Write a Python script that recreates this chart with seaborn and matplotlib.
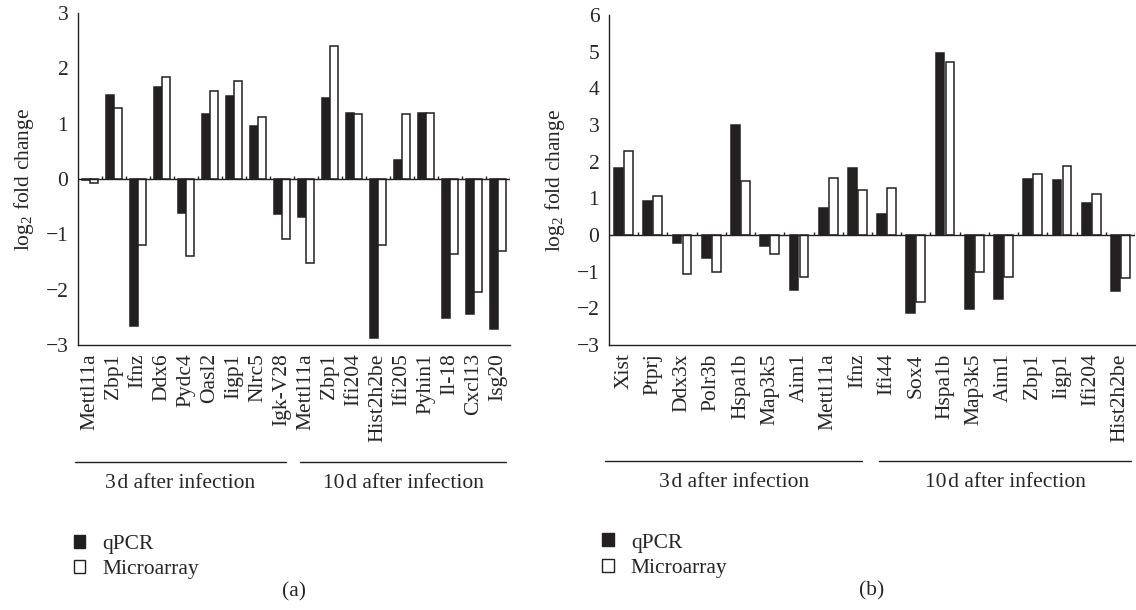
import numpy as np
import pandas as pd
import seaborn as sns
import matplotlib.pyplot as plt
from matplotlib.patches import Patch

# panel (a) data
genes_a = ["Mettl11a", "Zbp1", "Ifnz", "Ddx6", "Pydc4", "Oasl2", "Iigp1", "Nlrc5", "Igk-V28",
           "Mettl11a", "Zbp1", "Ifi204", "Hist2h2be", "Ifi205", "Pyhin1", "Il-18", "Cxcl13", "Isg20"]
qpcr_a = [-0.02, 1.51, -2.66, 1.67, -0.62, 1.18, 1.50, 0.95, -0.63,
          -0.69, 1.47, 1.20, -2.87, 0.35, 1.19, -2.52, -2.44, -2.71]
micro_a = [-0.07, 1.28, -1.19, 1.84, -1.39, 1.59, 1.78, 1.12, -1.08,
           -1.52, 2.40, 1.18, -1.19, 1.18, 1.19, -1.36, -2.04, -1.31]

# panel (b) data
genes_b = ["Xist", "Ptprj", "Ddx3x", "Polr3b", "Hspa1b", "Map3k5", "Aim1", "Mettl11a", "Ifnz",
           "Ifi44", "Sox4", "Hspa1b", "Map3k5", "Aim1", "Zbp1", "Iigp1", "Ifi204", "Hist2h2be"]
qpcr_b = [1.83, 0.92, -0.23, -0.62, 3.01, -0.29, -1.50, 0.73, 1.82,
          0.57, -2.14, 4.96, -2.02, -1.74, 1.52, 1.49, 0.88, -1.54]
micro_b = [2.30, 1.07, -1.06, -1.02, 1.48, -0.51, -1.15, 1.55, 1.22,
           1.27, -1.82, 4.72, -1.01, -1.15, 1.67, 1.87, 1.12, -1.18]

groups = ["3\u200ad after infection", "10\u200ad after infection"]
n_3d = 9

sns.set_style("white")
plt.rcParams['font.family'] = ['Liberation Serif', 'DejaVu Serif']
plt.rcParams['mathtext.default'] = 'regular'
plt.rcParams['font.size'] = 15.5

dark = "#231f20"
palette = {"qPCR": dark, "Microarray": "white"}


def long_form(genes, qpcr, micro):
    idx = list(range(len(genes)))
    return pd.DataFrame({
        "pos": idx + idx,
        "value": qpcr + micro,
        "method": ["qPCR"] * len(genes) + ["Microarray"] * len(genes),
    })


def draw_panel(ax, genes, qpcr, micro, ylim, letter):
    df = long_form(genes, qpcr, micro)
    sns.barplot(data=df, x="pos", y="value", hue="method", palette=palette,
                hue_order=["qPCR", "Microarray"], width=0.68, gap=0.12,
                edgecolor=dark, linewidth=1.1, ax=ax, legend=False)
    n = len(genes)
    ax.set_xlim(-0.5, n - 0.5)
    ax.set_ylim(*ylim)
    ax.set_yticks(range(ylim[0], ylim[1] + 1))
    ax.set_yticklabels([str(v).replace("-", "\u2212") for v in range(ylim[0], ylim[1] + 1)])
    ax.set_xticks(range(n))
    ax.set_xticklabels(genes, rotation=90)
    ax.tick_params(axis="x", length=0, pad=6)
    ax.tick_params(axis="y", direction="in", length=3, width=1, pad=7, color=dark)
    ax.set_xlabel("")
    ax.set_ylabel("log$_2$ fold change", labelpad=7)
    sns.despine(ax=ax)
    for s in ["left", "bottom"]:
        ax.spines[s].set_color(dark)
        ax.spines[s].set_linewidth(1)

    # zero line with small boundary ticks
    ax.axhline(0, color=dark, lw=1, zorder=1)
    span = ylim[1] - ylim[0]
    ax.vlines(np.arange(n) + 0.5, 0, span * 0.008, color=dark, lw=1, zorder=1)

    # group brackets
    trans = ax.get_xaxis_transform()
    for (x0, x1), label in zip([(-0.62, n_3d - 0.85), (n_3d - 0.25, n - 0.65)], groups):
        ax.plot([x0, x1], [-0.352, -0.352], color=dark, lw=1, transform=trans, clip_on=False)
        ax.text((x0 + x1) / 2, -0.418, label, transform=trans, ha="center", va="center")

    handles = [Patch(facecolor=dark, edgecolor=dark, label="qPCR"),
               Patch(facecolor="white", edgecolor=dark, label="Microarray")]
    ax.legend(handles=handles, loc="upper left", bbox_to_anchor=(-0.03, -0.545),
              frameon=False, handlelength=0.55, handleheight=0.55, handletextpad=0.8,
              labelspacing=0.3, borderaxespad=0)

    ax.text(0.5, -0.745, letter, transform=ax.transAxes, ha="center", va="center")


fig = plt.figure(figsize=(11.36, 6.10), dpi=100)
ax_a = fig.add_axes([78 / 1136, 265 / 610, 432 / 1136, 332 / 610])
ax_b = fig.add_axes([609 / 1136, 265 / 610, 526 / 1136, 330 / 610])

draw_panel(ax_a, genes_a, qpcr_a, micro_a, (-3, 3), "(a)")
draw_panel(ax_b, genes_b, qpcr_b, micro_b, (-3, 6), "(b)")

fig.savefig("out.png", dpi=100)
